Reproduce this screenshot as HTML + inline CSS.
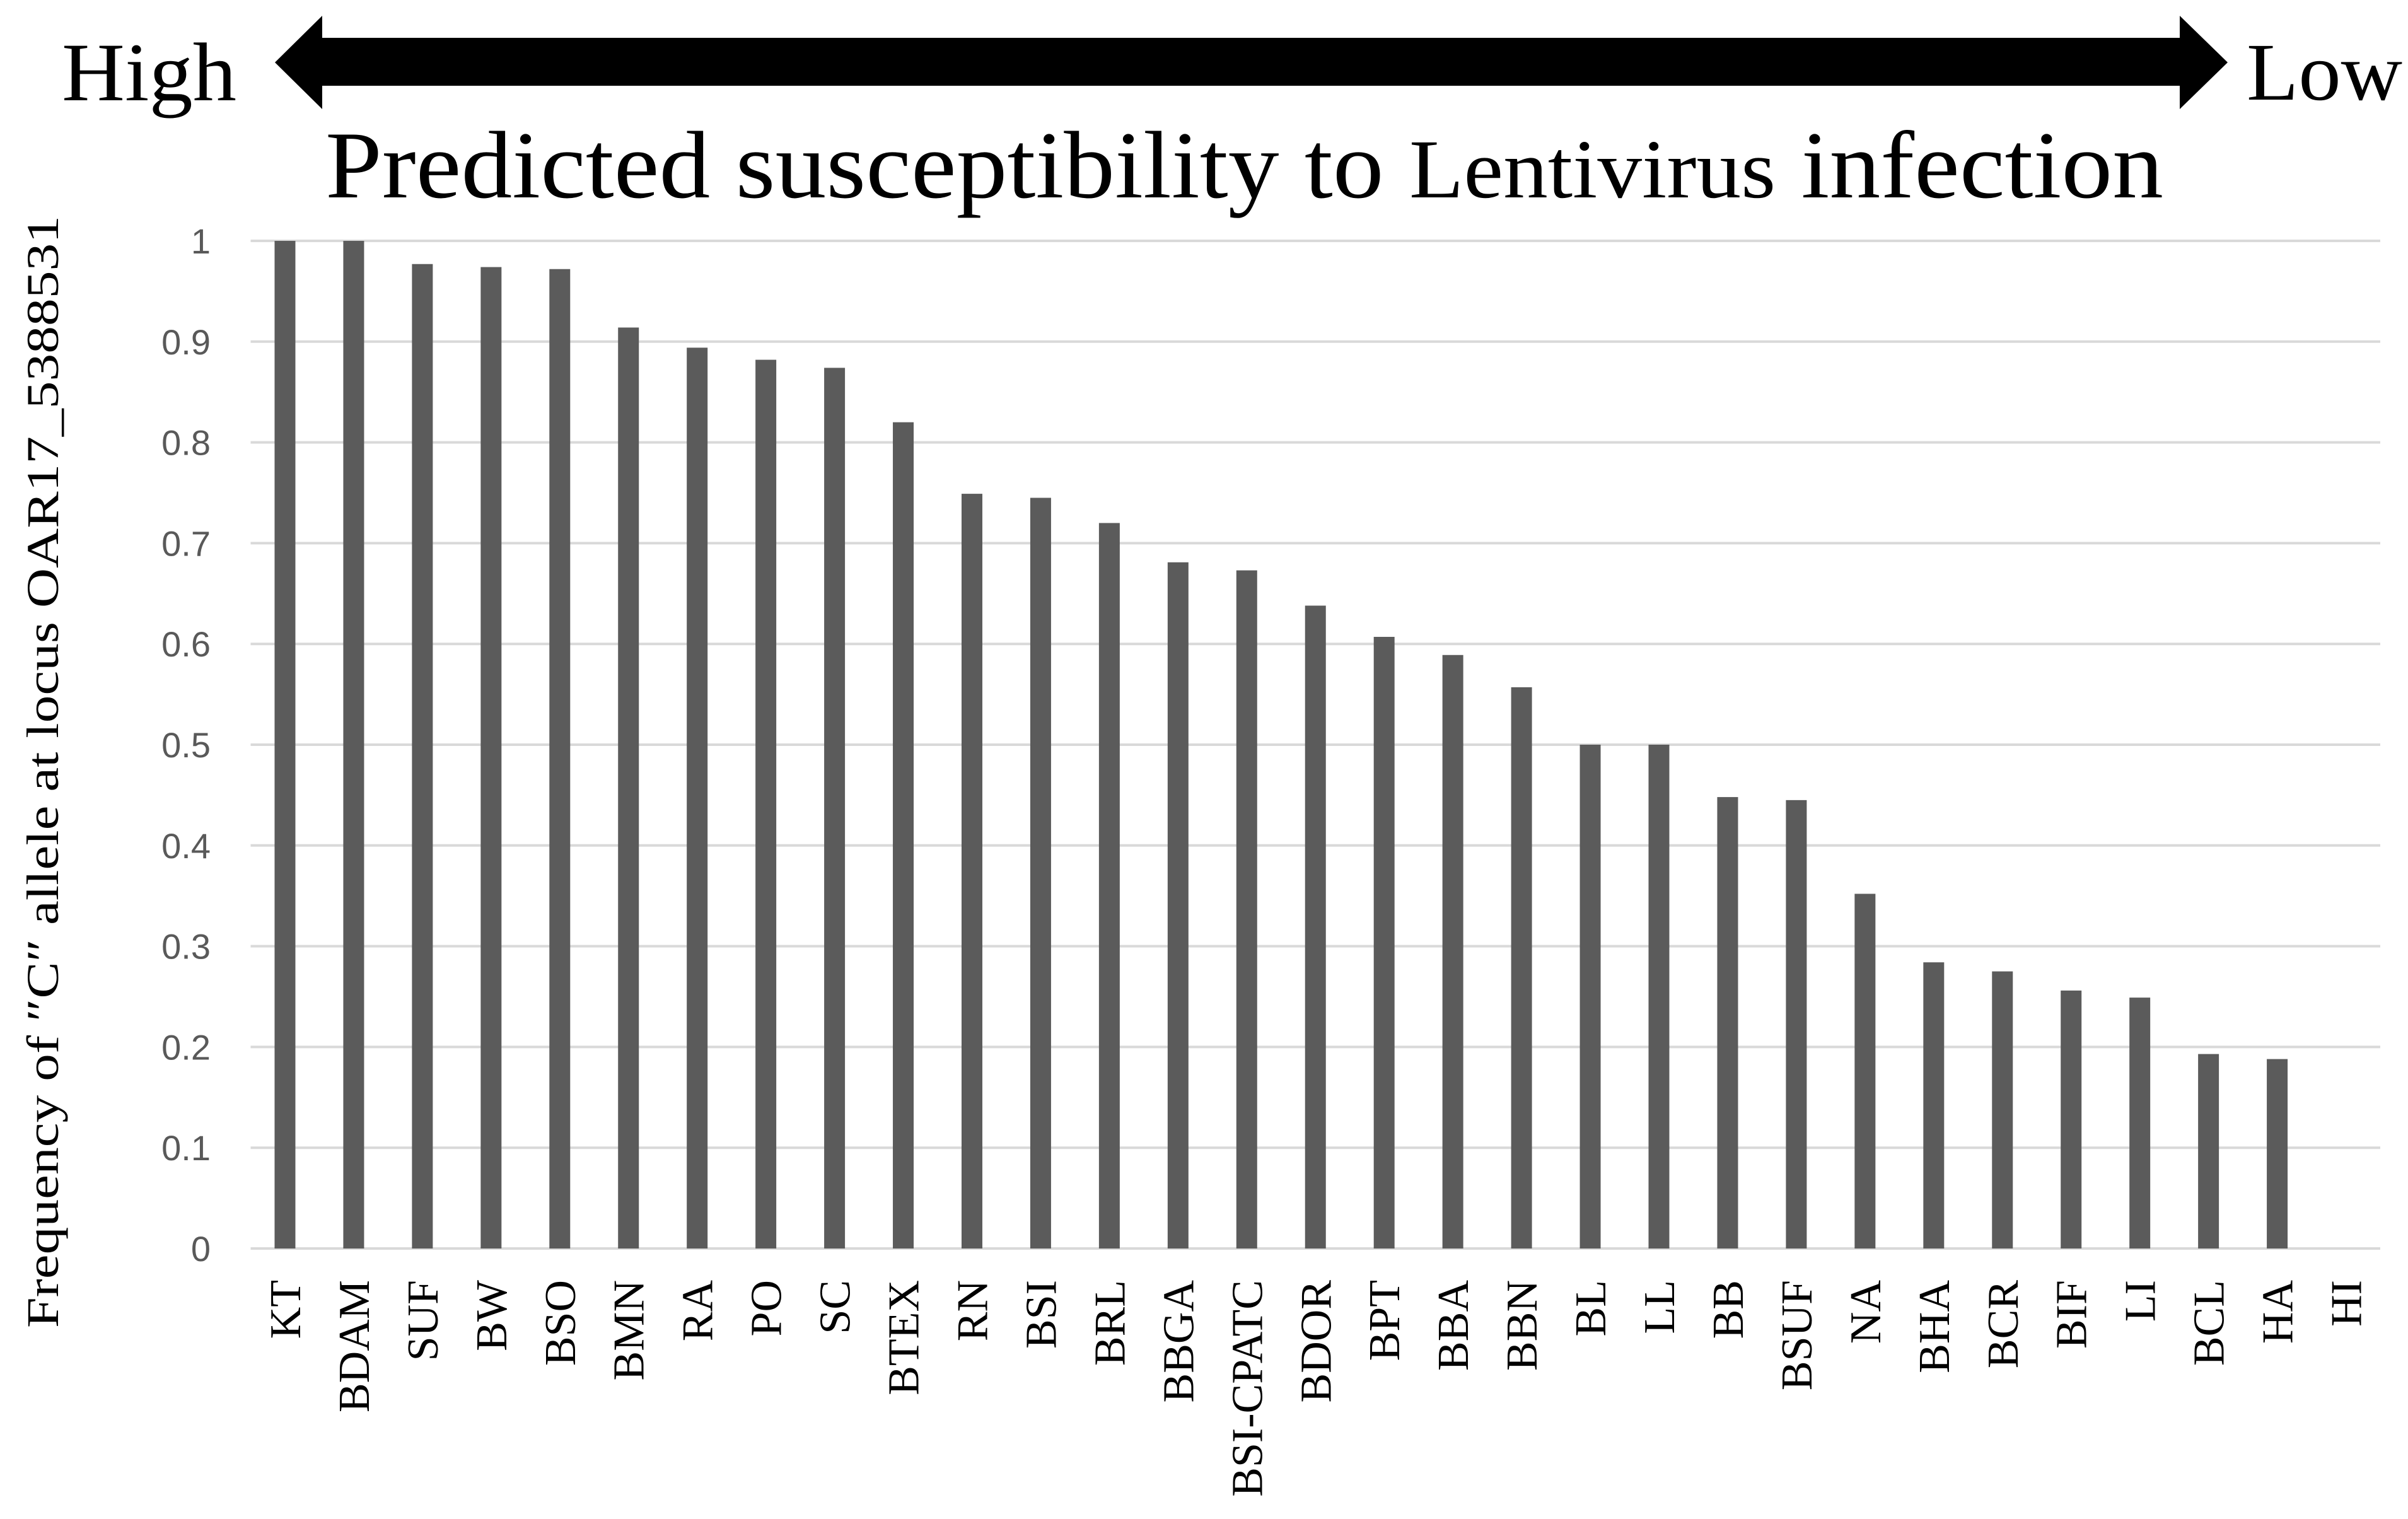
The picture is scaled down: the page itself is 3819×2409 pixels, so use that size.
<!DOCTYPE html>
<html><head><meta charset="utf-8">
<style>
html,body{margin:0;padding:0;background:#fff;}
svg{display:block;}
</style></head>
<body>
<svg id="chart" width="3819" height="2409" viewBox="0 0 3819 2409" xmlns="http://www.w3.org/2000/svg">
  <rect x="0" y="0" width="3819" height="2409" fill="#ffffff"/>
  <g id="header">
    <text x="98" y="159" font-family="Liberation Serif, serif" font-size="132" textLength="277" lengthAdjust="spacingAndGlyphs" fill="#000">High</text>
    <polygon fill="#000"
      points="436,99 511,25 511,60 3457,60 3457,25 3533,99 3457,173 3457,136 511,136 511,173"/>
    <text x="3563" y="158" font-family="Liberation Serif, serif" font-size="130" textLength="247" lengthAdjust="spacingAndGlyphs" fill="#000">Low</text>
    <text x="516" y="313" font-family="Liberation Serif, serif" font-size="152" textLength="2915" lengthAdjust="spacingAndGlyphs" fill="#000">Predicted susceptibility to <tspan font-size="133">Lentivirus</tspan> infection</text>
  </g>
  <text transform="translate(92,1224) rotate(-90)" text-anchor="middle" font-family="Liberation Serif, serif" font-size="72" textLength="1764" lengthAdjust="spacingAndGlyphs" fill="#000">Frequency of ″C″ allele at locus OAR17_5388531</text>
  <g id="grid"></g>
  <g id="yticks"></g>
  <g id="bars"></g>
  <g id="xlabels"></g>
</svg>
<script>
const categories = ["KT","BDAM","SUF","BW","BSO","BMN","RA","PO","SC","BTEX","RN","BSI","BRL","BBGA","BSI-CPATC","BDOR","BPT","BBA","BBN","BL","LL","BB","BSUF","NA","BHA","BCR","BIF","LI","BCL","HA","HI"];
const values = [1.0,1.0,0.977,0.974,0.972,0.914,0.894,0.882,0.874,0.820,0.749,0.745,0.720,0.681,0.673,0.638,0.607,0.589,0.557,0.5,0.5,0.448,0.445,0.352,0.284,0.275,0.256,0.249,0.193,0.188,0];
const yTicks = [0,0.1,0.2,0.3,0.4,0.5,0.6,0.7,0.8,0.9,1];
const yTickLabels = ["0","0.1","0.2","0.3","0.4","0.5","0.6","0.7","0.8","0.9","1"];

const NS = "http://www.w3.org/2000/svg";
const plotLeft = 397.5, plotRight = 3775, y0 = 1980, y1 = 382;
const band = (plotRight - plotLeft) / categories.length;
const barW = 33;
function yScale(v){ return y0 - v * (y0 - y1); }
function xCenter(i){ return plotLeft + band * (i + 0.5); }

const grid = document.getElementById('grid');
const yt = document.getElementById('yticks');
yTicks.forEach((t, k) => {
  const ln = document.createElementNS(NS, 'line');
  ln.setAttribute('x1', plotLeft); ln.setAttribute('x2', plotRight);
  ln.setAttribute('y1', yScale(t)); ln.setAttribute('y2', yScale(t));
  ln.setAttribute('stroke', '#d9d9d9'); ln.setAttribute('stroke-width', '4');
  
  
  grid.appendChild(ln);
  const tx = document.createElementNS(NS, 'text');
  tx.setAttribute('x', 334); tx.setAttribute('y', yScale(t) + 20);
  tx.setAttribute('text-anchor', 'end');
  tx.setAttribute('font-family', 'Liberation Sans, sans-serif');
  tx.setAttribute('font-size', '56');
  tx.setAttribute('fill', '#595959');
  tx.textContent = yTickLabels[k];
  
  
  yt.appendChild(tx);
});

const bars = document.getElementById('bars');
const xl = document.getElementById('xlabels');
categories.forEach((c, i) => {
  const v = values[i];
  const cx = xCenter(i);
  const r = document.createElementNS(NS, 'rect');
  r.setAttribute('x', cx - barW / 2);
  r.setAttribute('y', yScale(v));
  r.setAttribute('width', barW);
  r.setAttribute('height', y0 - yScale(v));
  r.setAttribute('fill', '#5b5b5b');
  
  
  bars.appendChild(r);
  const t = document.createElementNS(NS, 'text');
  t.setAttribute('transform', 'translate(' + (cx + 24) + ',2030) rotate(-90)');
  t.setAttribute('text-anchor', 'end');
  t.setAttribute('font-family', 'Liberation Serif, serif');
  t.setAttribute('font-size', '70');
  t.setAttribute('fill', '#000');
  t.textContent = c;
  
  
  xl.appendChild(t);
});
</script>
</body></html>
